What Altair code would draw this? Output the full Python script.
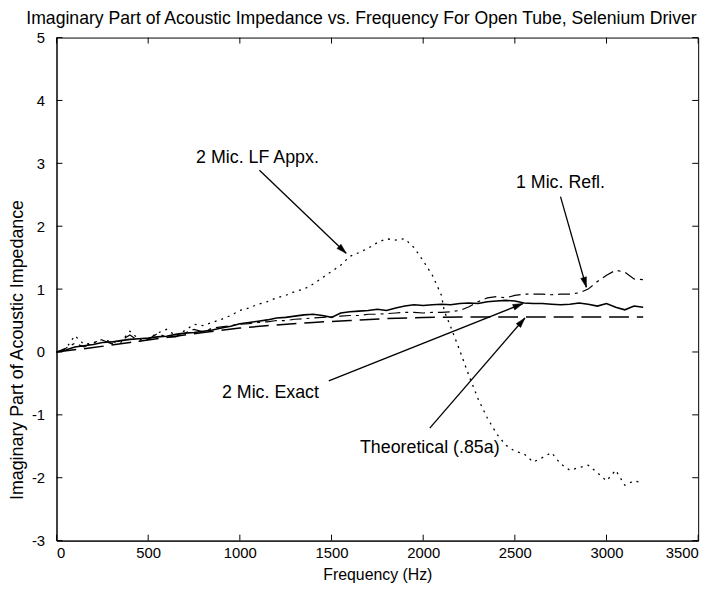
import math
import altair as alt
import pandas as pd

FONT = "Liberation Sans"
W, H = 648, 508

# ---------------- data ----------------
freq = list(range(0, 3201, 50))

exact = [0.00, 0.03, 0.08, 0.10, 0.12, 0.15, 0.16, 0.18, 0.20, 0.21,
         0.22, 0.24, 0.25, 0.28, 0.30, 0.31, 0.33, 0.35, 0.38, 0.41,
         0.45, 0.47, 0.49, 0.51, 0.54, 0.55, 0.57, 0.59, 0.60, 0.58,
         0.55, 0.62, 0.64, 0.65, 0.66, 0.68, 0.66, 0.70, 0.73, 0.75,
         0.74, 0.75, 0.76, 0.75, 0.77, 0.78, 0.77, 0.80, 0.81, 0.82,
         0.81, 0.78, 0.77, 0.77, 0.76, 0.75, 0.76, 0.78, 0.76, 0.73,
         0.77, 0.71, 0.67, 0.73, 0.71]

refl = [0.00, 0.06, 0.14, 0.08, 0.15, 0.19, 0.13, 0.18, 0.27, 0.17,
        0.20, 0.29, 0.24, 0.24, 0.30, 0.36, 0.32, 0.38, 0.40, 0.42,
        0.44, 0.45, 0.47, 0.48, 0.50, 0.50, 0.52, 0.53, 0.54, 0.55,
        0.56, 0.57, 0.58, 0.58, 0.60, 0.60, 0.61, 0.62, 0.63, 0.63,
        0.62, 0.63, 0.63, 0.64, 0.66, 0.72, 0.80, 0.86, 0.88, 0.86,
        0.90, 0.92, 0.92, 0.92, 0.91, 0.92, 0.92, 0.94, 1.00, 1.12,
        1.22, 1.30, 1.27, 1.16, 1.15]

lf_freq = list(range(0, 2101, 50)) + [2115] + list(range(2150, 3201, 50))
lf_appx = [0.00, 0.05, 0.26, 0.12, 0.14, 0.20, 0.16, 0.15, 0.33, 0.20,
           0.21, 0.30, 0.36, 0.26, 0.34, 0.44, 0.42, 0.47, 0.52, 0.58,
           0.66, 0.70, 0.76, 0.80, 0.86, 0.90, 0.96, 1.00, 1.08, 1.18,
           1.28, 1.38, 1.52, 1.58, 1.65, 1.74, 1.80, 1.78, 1.80, 1.66,
           1.45, 1.22, 0.90,
           0.65,
           0.40, 0.02, -0.38, -0.75, -1.05, -1.30, -1.48, -1.58, -1.62, -1.75,
           -1.68, -1.60, -1.78, -1.88, -1.84, -1.80, -1.92, -2.05, -1.88, -2.12,
           -2.05, -2.08]

theo_freq = [0, 200, 400, 600, 800, 1000, 1200, 1400, 1600, 1800, 2000,
             2200, 2400, 2600, 2800, 3000, 3200]
theo = [0.00, 0.07, 0.15, 0.23, 0.31, 0.38, 0.43, 0.47, 0.50, 0.53, 0.55,
        0.555, 0.555, 0.555, 0.555, 0.555, 0.555]

labels = ["2 Mic. LF Appx.", "1 Mic. Refl.", "2 Mic. Exact", "Theoretical (.85a)"]
label_x = [1096, 2749, 1167, 2036]
label_y = [3.08, 2.69, -0.66, -1.53]

arrow_x1 = [1107, 2749, 1485, 2036]
arrow_y1 = [2.89, 2.47, -0.46, -1.21]
arrow_x2 = [1580, 2890, 2544, 2555]
arrow_y2 = [1.57, 1.03, 0.77, 0.54]

x_ticks = [0, 500, 1000, 1500, 2000, 2500, 3000, 3500]
y_ticks = [-3, -2, -1, 0, 1, 2, 3, 4, 5]

# ---------------- tables ----------------
df_exact = pd.DataFrame({"f": freq, "v": exact})
df_refl = pd.DataFrame({"f": freq, "v": refl})
df_lf = pd.DataFrame({"f": lf_freq, "v": lf_appx})
df_theo = pd.DataFrame({"f": theo_freq, "v": theo})

sx = W / 3500.0
sy = H / 8.0
angles = []
for a, b, c, d in zip(arrow_x1, arrow_y1, arrow_x2, arrow_y2):
    ang = math.degrees(math.atan2((c - a) * sx, (d - b) * sy)) % 360
    angles.append(ang)

df_lab = pd.DataFrame({"t": labels, "x": label_x, "y": label_y})
df_arr = pd.DataFrame({"x1": arrow_x1, "y1": arrow_y1, "x2": arrow_x2,
                       "y2": arrow_y2, "ang": angles})
df_xt = pd.DataFrame({"t": x_ticks})
df_yt = pd.DataFrame({"t": y_ticks})

xs = alt.Scale(domain=[0, 3500], nice=False, zero=False)
ys = alt.Scale(domain=[-3, 5], nice=False, zero=False)

X = alt.X("f:Q", scale=xs,
          axis=alt.Axis(values=x_ticks, title="Frequency (Hz)",
                        labelExpr="'' + datum.value",
                        labelPadding=5, titlePadding=6))
Y = alt.Y("v:Q", scale=ys,
          axis=alt.Axis(values=y_ticks, title="Imaginary Part of Acoustic Impedance",
                        labelExpr="'' + datum.value", labelPadding=12,
                        titleX=-48, titleY=315, titleBaseline="top",
                        titleAlign="center", titleFontSize=18))

line_exact = alt.Chart(df_exact).mark_line(color="black", strokeWidth=1.6).encode(x=X, y=Y)
line_refl = alt.Chart(df_refl).mark_line(color="black", strokeWidth=1.2,
                                         strokeDash=[12, 5, 3, 5]).encode(x="f:Q", y="v:Q")
line_lf = alt.Chart(df_lf).mark_line(color="black", strokeWidth=1.3,
                                     strokeDash=[2, 5]).encode(x="f:Q", y="v:Q")
line_theo = alt.Chart(df_theo).mark_line(color="black", strokeWidth=1.5,
                                         strokeDash=[20, 8]).encode(x="f:Q", y="v:Q")

arrows = alt.Chart(df_arr).mark_rule(color="black", strokeWidth=1.3).encode(
    x=alt.X("x1:Q", scale=xs), y=alt.Y("y1:Q", scale=ys), x2="x2:Q", y2="y2:Q")
heads = alt.Chart(df_arr).mark_point(
    shape="M0,0L-0.38,1.3L0.38,1.3Z", filled=True, fill="black", stroke="black",
    strokeWidth=0.5, size=240, opacity=1).encode(
    x=alt.X("x2:Q", scale=xs), y=alt.Y("y2:Q", scale=ys),
    angle=alt.Angle("ang:Q", scale=None))

texts = alt.Chart(df_lab).mark_text(
    font=FONT, fontSize=18, color="black", align="center", baseline="middle").encode(
    x=alt.X("x:Q", scale=xs), y=alt.Y("y:Q", scale=ys), text="t:N")

tick_len = 6
t_bottom = alt.Chart(df_xt).mark_rule(color="black", strokeWidth=1).encode(
    x=alt.X("t:Q", scale=xs), y=alt.value(H), y2=alt.value(H - tick_len))
t_top = alt.Chart(df_xt).mark_rule(color="black", strokeWidth=1).encode(
    x=alt.X("t:Q", scale=xs), y=alt.value(0), y2=alt.value(tick_len))
t_left = alt.Chart(df_yt).mark_rule(color="black", strokeWidth=1).encode(
    y=alt.Y("t:Q", scale=ys), x=alt.value(0), x2=alt.value(tick_len))
t_right = alt.Chart(df_yt).mark_rule(color="black", strokeWidth=1).encode(
    y=alt.Y("t:Q", scale=ys), x=alt.value(W), x2=alt.value(W - tick_len))

chart = alt.layer(
    line_exact, line_theo, line_refl, line_lf,
    t_bottom, t_top, t_left, t_right,
    arrows, heads, texts
).properties(
    width=W, height=H,
    title=alt.Title("Imaginary Part of Acoustic Impedance vs. Frequency For Open Tube, Selenium Driver",
                    font=FONT, fontSize=17.8, fontWeight="normal", color="black",
                    anchor="middle", dx=-16, offset=3),
    autosize=alt.AutoSizeParams(type="none"),
    padding={"left": 49, "top": 27, "right": 18, "bottom": 46},
    background="white",
).configure_view(
    stroke="black", strokeWidth=1
).configure_axis(
    domain=True, domainColor="black", domainWidth=1, ticks=False, grid=False,
    labelFont=FONT, labelFontSize=15, labelColor="black",
    titleFont=FONT, titleFontSize=16, titleFontWeight="normal", titleColor="black",
)

chart.save("out.html", embed_options={"renderer": "svg", "actions": False})
